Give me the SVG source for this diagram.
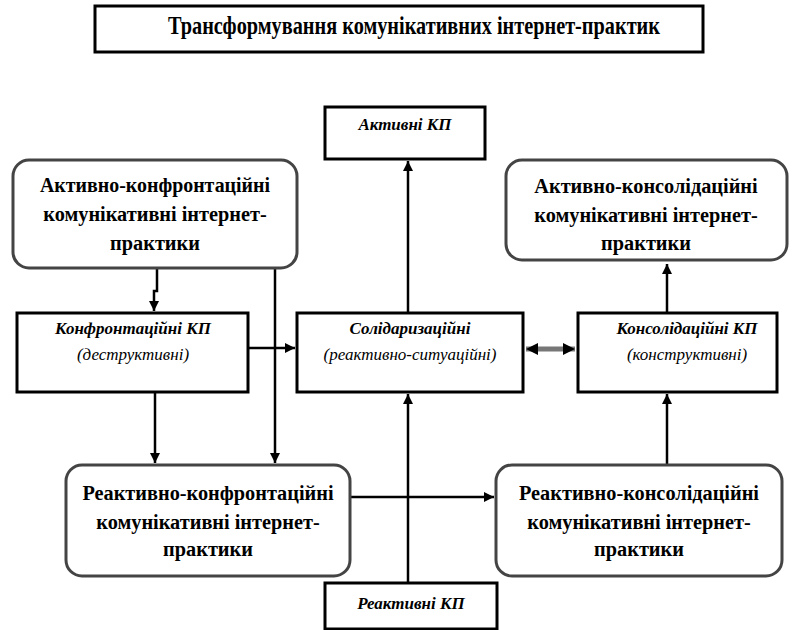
<svg xmlns="http://www.w3.org/2000/svg" width="792" height="630" viewBox="0 0 792 630">
  <style>
    .frame { fill: #fff; stroke: #000; stroke-width: 3; }
    .round { fill: #fff; stroke: #444; stroke-width: 3; }
    .big { font-family: "Liberation Serif", "Times New Roman", serif; font-weight: bold; font-size: 20.3px; text-anchor: middle; fill: #000; }
    .title { font-family: "Liberation Serif", "Times New Roman", serif; font-weight: bold; font-size: 25px; text-anchor: middle; fill: #000; }
    .kp { font-family: "Liberation Serif", "Times New Roman", serif; font-weight: bold; font-style: italic; font-size: 17px; text-anchor: middle; fill: #000; }
    .sub { font-family: "Liberation Serif", "Times New Roman", serif; font-style: italic; font-size: 17px; text-anchor: middle; fill: #000; }
    .link { fill: none; stroke: #000; stroke-width: 2.5; }
    .twoway { fill: none; stroke: #777; stroke-width: 5; }
  </style>
  <defs>
    <marker id="tip" viewBox="0 0 10 10" refX="10" refY="5" markerWidth="4" markerHeight="4" orient="auto" markerUnits="strokeWidth">
      <path d="M0,0 L10,5 L0,10 z" fill="#000"/>
    </marker>
    <marker id="tipGrey" viewBox="0 0 10 10" refX="10" refY="5" markerWidth="2.4" markerHeight="2.4" orient="auto-start-reverse" markerUnits="strokeWidth">
      <path d="M0,0 L10,5 L0,10 z" fill="#000"/>
    </marker>
  </defs>

  <rect width="792" height="630" fill="#fff"/>

  <g id="title">
    <rect class="frame" x="95" y="6" width="608" height="46"/>
    <text class="title" x="414" y="34" textLength="492" lengthAdjust="spacingAndGlyphs">Трансформування комунікативних інтернет-практик</text>
  </g>

  <g id="connectors">
    <!-- active confrontational to confrontational KP -->
    <path class="link" d="M157,268 V291 H154 V311" marker-end="url(#tip)"/>
    <!-- active confrontational to reactive confrontational -->
    <path class="link" d="M275,268 V463" marker-end="url(#tip)"/>
    <!-- confrontational KP to reactive confrontational -->
    <path class="link" d="M155,392 V463" marker-end="url(#tip)"/>
    <!-- confrontational KP to solidarity -->
    <path class="link" d="M248,348 H295" marker-end="url(#tip)"/>
    <!-- solidarity up to active KP -->
    <path class="link" d="M408,313 V161" marker-end="url(#tip)"/>
    <!-- reactive KP up to solidarity -->
    <path class="link" d="M408,583 V394" marker-end="url(#tip)"/>
    <!-- reactive confrontational to reactive consolidated -->
    <path class="link" d="M350,497 H494" marker-end="url(#tip)"/>
    <!-- consolidated KP up to active consolidated -->
    <path class="link" d="M667,313 V264" marker-end="url(#tip)"/>
    <!-- reactive consolidated up to consolidated KP -->
    <path class="link" d="M667,465 V394" marker-end="url(#tip)"/>
    <!-- solidarity and consolidated KP, both ways -->
    <path class="twoway" d="M526,349 H575" marker-start="url(#tipGrey)" marker-end="url(#tipGrey)"/>
  </g>

  <g id="active-confrontational">
    <rect class="round" x="13" y="160" width="284" height="108" rx="16"/>
    <text class="big" x="155" y="192" textLength="230" lengthAdjust="spacingAndGlyphs">Активно-конфронтаційні</text>
    <text class="big" x="155" y="221">комунікативні інтернет-</text>
    <text class="big" x="155" y="250">практики</text>
  </g>

  <g id="active-consolidated">
    <rect class="round" x="506" y="160" width="281" height="100" rx="16"/>
    <text class="big" x="646" y="193">Активно-консолідаційні</text>
    <text class="big" x="646" y="222">комунікативні інтернет-</text>
    <text class="big" x="646" y="250">практики</text>
  </g>

  <g id="active-kp">
    <rect class="frame" x="325" y="107" width="160" height="52"/>
    <text class="kp" x="405" y="130">Активні КП</text>
  </g>

  <g id="confrontational-kp">
    <rect class="frame" x="17" y="313" width="231" height="79"/>
    <text class="kp" x="133" y="334">Конфронтаційні КП</text>
    <text class="sub" x="133" y="360">(деструктивні)</text>
  </g>

  <g id="solidarity-kp">
    <rect class="frame" x="297" y="313" width="226" height="79"/>
    <text class="kp" x="410" y="334">Солідаризаційні</text>
    <text class="sub" x="410" y="360">(реактивно-ситуаційні)</text>
  </g>

  <g id="consolidated-kp">
    <rect class="frame" x="578" y="313" width="199" height="79"/>
    <text class="kp" x="687" y="334">Консолідаційні КП</text>
    <text class="sub" x="687" y="360">(конструктивні)</text>
  </g>

  <g id="reactive-confrontational">
    <rect class="round" x="66" y="465" width="284" height="111" rx="16"/>
    <text class="big" x="208" y="500">Реактивно-конфронтаційні</text>
    <text class="big" x="208" y="529">комунікативні інтернет-</text>
    <text class="big" x="208" y="556">практики</text>
  </g>

  <g id="reactive-consolidated">
    <rect class="round" x="496" y="465" width="286" height="111" rx="16"/>
    <text class="big" x="639" y="500">Реактивно-консолідаційні</text>
    <text class="big" x="639" y="529">комунікативні інтернет-</text>
    <text class="big" x="639" y="556">практики</text>
  </g>

  <g id="reactive-kp">
    <rect class="frame" x="325" y="583" width="172" height="46"/>
    <text class="kp" x="411" y="609">Реактивні КП</text>
  </g>
</svg>
